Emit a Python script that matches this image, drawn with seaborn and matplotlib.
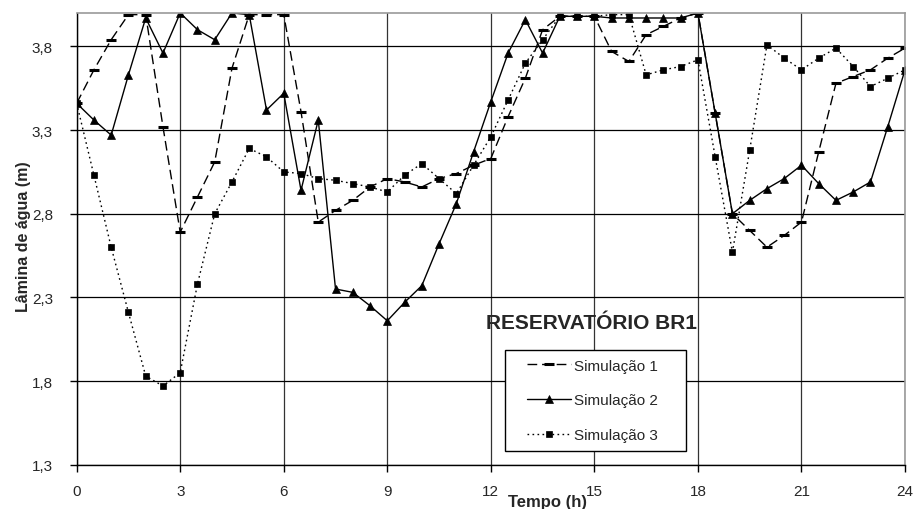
import numpy as np
import pandas as pd
import matplotlib
matplotlib.use("Agg")
import matplotlib.pyplot as plt
from matplotlib.legend_handler import HandlerLine2D
import seaborn as sns

# hours, one reading every half hour
hours = np.arange(0, 24.5, 0.5)

sim1 = [3.46, 3.66, 3.84, 3.99, 3.99, 3.32, 2.69, 2.90, 3.11, 3.67,
        3.99, 3.99, 3.99, 3.41, 2.75, 2.82, 2.88, 2.96, 3.01, 2.99,
        2.96, 3.01, 3.04, 3.09, 3.13, 3.38, 3.61, 3.90, 3.98, 3.98,
        3.98, 3.77, 3.71, 3.87, 3.92, 3.97, 4.00, 3.40, 2.80, 2.70,
        2.60, 2.67, 2.75, 3.17, 3.58, 3.62, 3.66, 3.73, 3.79]

sim2 = [3.46, 3.36, 3.27, 3.63, 3.97, 3.76, 4.00, 3.90, 3.84, 4.00,
        3.99, 3.42, 3.52, 2.94, 3.36, 2.35, 2.33, 2.25, 2.16, 2.27,
        2.37, 2.62, 2.86, 3.17, 3.47, 3.76, 3.96, 3.76, 3.98, 3.98,
        3.98, 3.97, 3.97, 3.97, 3.97, 3.97, 4.00, 3.40, 2.80, 2.88,
        2.95, 3.01, 3.09, 2.98, 2.88, 2.93, 2.99, 3.32, 3.66]

sim3 = [3.46, 3.03, 2.60, 2.21, 1.83, 1.77, 1.85, 2.38, 2.80, 2.99,
        3.19, 3.14, 3.05, 3.04, 3.01, 3.00, 2.98, 2.96, 2.93, 3.03,
        3.10, 3.01, 2.92, 3.09, 3.26, 3.48, 3.70, 3.84, 3.98, 3.98,
        3.98, 3.99, 3.99, 3.63, 3.66, 3.68, 3.72, 3.14, 2.57, 3.18,
        3.81, 3.73, 3.66, 3.73, 3.79, 3.68, 3.56, 3.61, 3.66]

labels = ["Simulação 1", "Simulação 2", "Simulação 3"]
x_ticks = [0, 3, 6, 9, 12, 15, 18, 21, 24]
y_ticks = [1.3, 1.8, 2.3, 2.8, 3.3, 3.8]

sns.set_style("white")
plt.rcParams["font.family"] = ["Liberation Sans", "DejaVu Sans"]

fig = plt.figure(figsize=(9.16, 5.10), dpi=100)
ax = fig.add_axes([0.0837, 0.0869, 0.9043, 0.8857])

styles = [
    dict(marker="_", markersize=7, mew=2.2, linestyle=(0, (7, 3.5))),
    dict(marker="^", markersize=6, mew=0.5, linestyle="-"),
    dict(marker="s", markersize=5, mew=0.5, linestyle=(0, (1.2, 2.4))),
]
for vals, lab, st in zip([sim1, sim2, sim3], labels, styles):
    df = pd.DataFrame({"Tempo": hours, "Lamina": vals})
    sns.lineplot(data=df, x="Tempo", y="Lamina", ax=ax, color="black",
                 lw=1, mec="black", mfc="black", label=lab, **st)

ax.set_xlim(0, 24)
ax.set_ylim(1.3, 4.0)
ax.set_xticks(x_ticks)
ax.set_yticks(y_ticks)
ax.set_xticklabels([str(t) for t in x_ticks], fontsize=11)
ax.set_yticklabels([f"{v:.1f}".replace(".", ",") for v in y_ticks], fontsize=11)
ax.tick_params(axis="x", bottom=True, direction="out", length=5, width=1,
               color="black", pad=9)
ax.tick_params(axis="y", left=True, direction="out", length=5, width=1,
               color="black", pad=12)

ax.grid(True, axis="y", color="black", lw=0.9)
ax.grid(True, axis="x", color="#333333", lw=0.9)
ax.set_axisbelow(True)

for side in ["left", "bottom"]:
    ax.spines[side].set_color("black")
    ax.spines[side].set_linewidth(1)
for side in ["top", "right"]:
    ax.spines[side].set_color("#9a9a9a")
    ax.spines[side].set_linewidth(1.2)

ax.set_xlabel("Tempo (h)", fontsize=12, fontweight="bold")
ax.xaxis.set_label_coords(0.568, -0.066)
ax.set_ylabel("Lâmina de água (m)", fontsize=11.5, fontweight="bold")
ax.yaxis.set_label_coords(-0.055, 0.508)

ax.text(0.622, 0.314, "RESERVATÓRIO BR1", transform=ax.transAxes,
        fontsize=15, fontweight="bold", ha="center", va="center")

leg = ax.legend(loc="lower left", bbox_to_anchor=(0.517, 0.030, 0.219, 0.228),
                mode="expand", fontsize=11, frameon=True, fancybox=False,
                shadow=False, framealpha=1, edgecolor="black",
                handlelength=3.7, handletextpad=0.2, labelspacing=1.35,
                borderpad=0.6, borderaxespad=0,
                handler_map={plt.Line2D: HandlerLine2D(xpad=0.85)})
leg.get_frame().set_linewidth(1)

fig.savefig("out.png", dpi=100)
